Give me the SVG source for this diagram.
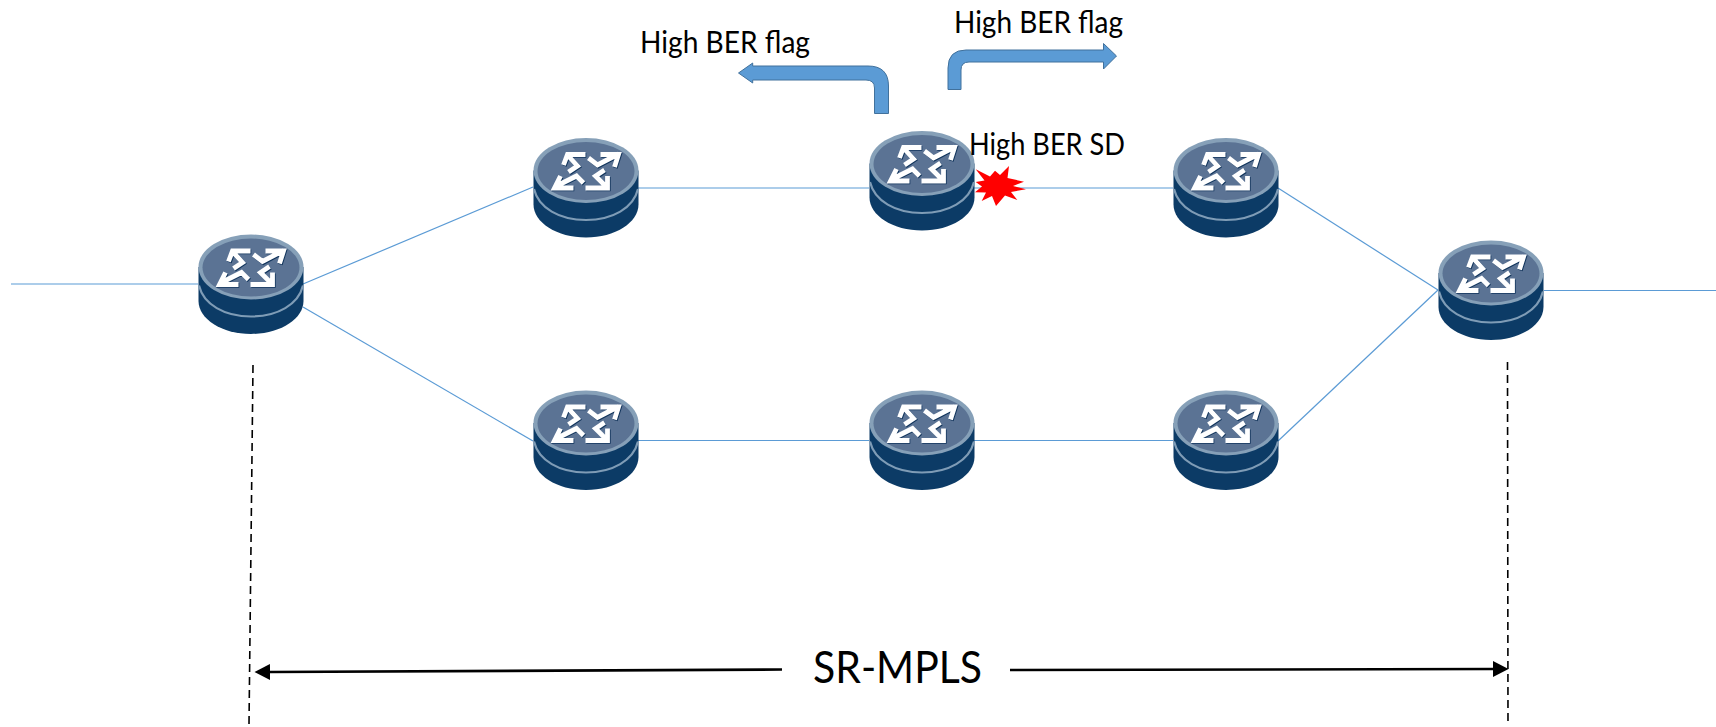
<svg xmlns="http://www.w3.org/2000/svg" width="1716" height="727" viewBox="0 0 1716 727">
<style>
.link{stroke:#5b9bd5;stroke-width:1.2;fill:none}
.dash{stroke:#000;stroke-width:1.6;stroke-dasharray:8 5;fill:none}
.span{stroke:#000;stroke-width:2.6;fill:none}
.bend{fill:#5b9bd5;stroke:#41719c;stroke-width:1}
.lbl{font-family:"Lato","Open Sans","Liberation Sans",sans-serif;font-size:30px;fill:#000}
.big{font-size:44px}
.gl{fill:none;stroke:#fff;stroke-width:4.8}
.gs{fill:none;stroke:#12355c;stroke-width:4.8}
</style>
<defs>
<marker id="tip" markerUnits="userSpaceOnUse" markerWidth="16" markerHeight="18" refX="0" refY="8.5" orient="auto"><path d="M0,0.5L15.5,8.5L0,16.5Z" fill="#000"/></marker>
<path id="glyph" d="M67,16.5H85L81,29M85,16L64,27L55,20M52,16.5H34L30,27M34,17L44,28L35,34M40,50H21L27,38M21,49L43,38L50,45M52,50H74V38M74,50L62,38L71,32"/>
<g id="router">
<path d="M0,32.5V66.5C0,84.5 23.5,99.5 52.5,99.5S105,84.5 105,66.5V32.5Z" fill="#0c3b66"/>
<path d="M0.5,51C5,70 26,82 52.5,82S100,70 104.5,51" fill="none" stroke="#7f9cb6" stroke-width="2.2"/>
<ellipse cx="52.5" cy="32.5" rx="52.5" ry="32.5" fill="#86a0b8"/>
<ellipse cx="52.5" cy="33" rx="48.5" ry="29" fill="#5b7394"/>
<use href="#glyph" class="gs" x="0.8" y="0.9"/>
<use href="#glyph" class="gl"/>
</g>
</defs>
<rect width="1716" height="727" fill="#fff"/>
<g id="connectors">
<path class="link" d="M11,284H198"/>
<path class="link" d="M303,284L533,187"/>
<path class="link" d="M303,307L533,441"/>
<path class="link" d="M638,188H869"/>
<path class="link" d="M973,188H1173"/>
<path class="link" d="M638,440.5H869"/>
<path class="link" d="M973,440.5H1173"/>
<path class="link" d="M1278,188L1438,290"/>
<path class="link" d="M1278,441L1438,290"/>
<path class="link" d="M1544,290.5H1716"/>
<path class="dash" d="M253,365L249,724"/>
<path class="dash" d="M1507.5,362L1508,725"/>
<path class="span" d="M782,669.5L270,672" marker-end="url(#tip)"/>
<path class="span" d="M1010,670L1493,669" marker-end="url(#tip)"/>
</g>
<g id="r1"><use href="#router" x="198.5" y="234.5"/></g>
<g id="r2"><use href="#router" x="533.5" y="138"/></g>
<g id="r3"><use href="#router" x="869.5" y="131"/></g>
<g id="r4"><use href="#router" x="1173.5" y="138"/></g>
<g id="r5"><use href="#router" x="1438.5" y="240.5"/></g>
<g id="r6"><use href="#router" x="533.5" y="390.5"/></g>
<g id="r7"><use href="#router" x="869.5" y="390.5"/></g>
<g id="r8"><use href="#router" x="1173.5" y="390.5"/></g>
<g id="flag-left">
<path class="bend" d="M888.5,113.5H874.5V88Q874.5,80 866,80H752.7V83L738.5,73L752.7,63V66H868Q888.5,66 888.5,86Z"/>
<text class="lbl" x="640" y="53" textLength="170" lengthAdjust="spacingAndGlyphs">High BER flag</text>
</g>
<g id="flag-right">
<path class="bend" d="M948,89.5H961V70Q961,62 969,62H1103.5V69L1116.5,56L1103.5,43.5V50H966Q948,50 948,68Z"/>
<text class="lbl" x="954" y="33" textLength="169" lengthAdjust="spacingAndGlyphs">High BER flag</text>
</g>
<g id="fault">
<polygon fill="#f00" points="975.7,169.3 990,176.5 995,170.7 1000,175 1009,166 1007.5,178 1024,181.7 1013,186 1026,189.3 1011,192 1017.3,200 1005,195.5 996,206 992,196 981.7,201 986,192.5 975,192.3 982,186.5 975.7,182 984.5,180.5"/>
<text class="lbl" x="969" y="155" textLength="156" lengthAdjust="spacingAndGlyphs">High BER SD</text>
</g>
<g id="span-label"><text class="lbl big" x="813" y="683" textLength="169" lengthAdjust="spacingAndGlyphs">SR-MPLS</text></g>
</svg>
